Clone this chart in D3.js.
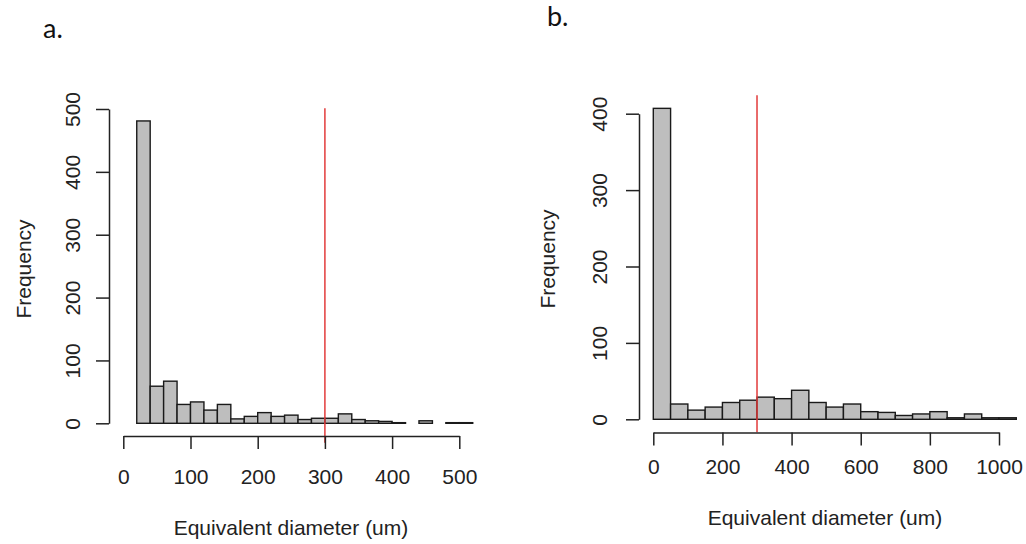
<!DOCTYPE html>
<html lang="en">
<head>
<meta charset="utf-8">
<title>Equivalent diameter histograms</title>
<script src="https://cdn.jsdelivr.net/npm/d3@7"></script>
<style>
  body { margin: 0; background: #fff; }
  svg { display: block; }
  .axis text { font-family: "Liberation Sans", Arial, sans-serif; font-size: 21px; fill: #222; }
  .axis path, .axis line { stroke: #222; stroke-width: 1.5; }
  .lab { font-family: "Liberation Sans", Arial, sans-serif; font-size: 21px; fill: #222; }
  .panel { font-family: Lato, "Open Sans", sans-serif; font-size: 27px; fill: #111; }
</style>
</head>
<body>
<div id="chart"></div>
<script>
// panel a: bin edges (lower), bin width 20
const binsA = [20, 40, 60, 80, 100, 120, 140, 160, 180, 200, 220, 240, 260, 280, 300, 320, 340, 360, 380, 400, 420, 440, 460, 480, 500];
const countsA = [481, 59, 67, 30, 34, 21, 30, 7, 11, 17, 11, 13, 6, 8, 8, 15, 6, 4, 3, 1, 0, 4, 0, 1, 1];
const xTicksA = [0, 100, 200, 300, 400, 500];
const yTicksA = [0, 100, 200, 300, 400, 500];

// panel b: bin edges (lower), bin width 50
const binsB = [0, 50, 100, 150, 200, 250, 300, 350, 400, 450, 500, 550, 600, 650, 700, 750, 800, 850, 900, 950, 1000];
const countsB = [407, 20, 12, 16, 22, 25, 29, 27, 38, 22, 16, 20, 10, 9, 5, 7, 10, 2, 7, 2, 2];
const xTicksB = [0, 200, 400, 600, 800, 1000];
const yTicksB = [0, 100, 200, 300, 400];

const cutoff = 300;

const width = 1026, height = 544;
const svg = d3.select("#chart").append("svg")
    .attr("width", width).attr("height", height);

const drawHist = (opt) => {
  const x = d3.scaleLinear().domain(opt.xDomain).range(opt.xRange);
  const y = d3.scaleLinear().domain(opt.yDomain).range(opt.yRange);
  const g = svg.append("g");

  g.append("g").selectAll("rect")
    .data(opt.bins.map((b, i) => ({x0: b, x1: b + opt.binWidth, n: opt.counts[i]})))
    .join("rect")
      .attr("x", d => x(d.x0))
      .attr("width", d => x(d.x1) - x(d.x0))
      .attr("y", d => y(d.n))
      .attr("height", d => y(0) - y(d.n))
      .attr("fill", "#bebebe")
      .attr("stroke", "#1a1a1a")
      .attr("stroke-width", 1.4);

  // vertical cutoff line
  g.append("line")
      .attr("x1", x(cutoff)).attr("x2", x(cutoff))
      .attr("y1", y(opt.lineTop)).attr("y2", y(opt.lineBottom))
      .attr("stroke", "#e23b3b")
      .attr("stroke-width", 1.5);

  const xa = g.append("g").attr("class", "axis")
      .attr("transform", `translate(0,${opt.xAxisY})`)
      .call(d3.axisBottom(x).tickValues(opt.xTicks).tickSize(13).tickSizeOuter(0).tickFormat(d3.format("d")));
  xa.selectAll("text").attr("y", opt.xLabelDy).attr("dy", null);

  const ya = g.append("g").attr("class", "axis")
      .attr("transform", `translate(${opt.yAxisX},0)`)
      .call(d3.axisLeft(y).tickValues(opt.yTicks).tickSize(13).tickSizeOuter(0).tickFormat(d3.format("d")));
  ya.selectAll("text")
      .attr("x", null).attr("dy", null)
      .attr("text-anchor", "middle")
      .attr("transform", `translate(${-opt.yLabelDx},0) rotate(-90)`);

  svg.append("text").attr("class", "lab")
      .attr("text-anchor", "middle")
      .attr("x", opt.xTitle[0]).attr("y", opt.xTitle[1])
      .text("Equivalent diameter (um)");
  svg.append("text").attr("class", "lab")
      .attr("text-anchor", "middle")
      .attr("transform", `translate(${opt.yTitle[0]},${opt.yTitle[1]}) rotate(-90)`)
      .text("Frequency");
  svg.append("text").attr("class", "panel")
      .attr("x", opt.panel[0]).attr("y", opt.panel[1])
      .text(opt.panelLabel);
};

drawHist({
  bins: binsA, counts: countsA, binWidth: 20,
  xDomain: [0, 500], xRange: [123.3, 459.3],
  yDomain: [0, 500], yRange: [423.3, 109],
  xTicks: xTicksA, yTicks: yTicksA,
  xAxisY: 436, yAxisX: 109, xLabelDy: 48, yLabelDx: 29,
  lineTop: 501, lineBottom: -31,
  xTitle: [291, 535], yTitle: [31, 269],
  panel: [43, 38], panelLabel: "a."
});

drawHist({
  bins: binsB, counts: countsB, binWidth: 50,
  xDomain: [0, 1000], xRange: [653.3, 999],
  yDomain: [0, 400], yRange: [419.3, 113.7],
  xTicks: xTicksB, yTicks: yTicksB,
  xAxisY: 432.5, yAxisX: 639, xLabelDy: 41, yLabelDx: 32,
  lineTop: 424, lineBottom: -17,
  xTitle: [825, 525], yTitle: [555, 259],
  panel: [547, 26], panelLabel: "b."
});
</script>
</body>
</html>
